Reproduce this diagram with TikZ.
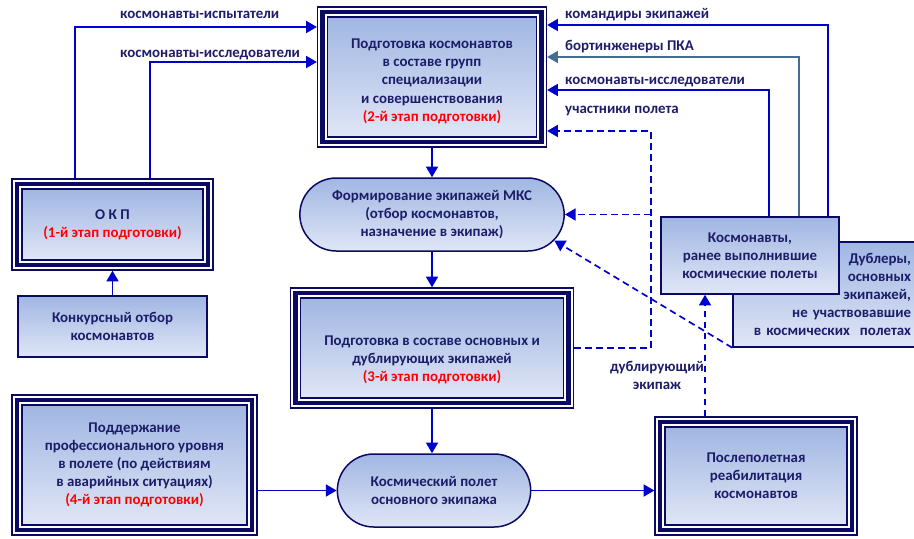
\documentclass[tikz,border=0pt]{standalone}
\usepackage{fontspec}
\setmainfont{Carlito}
\usetikzlibrary{arrows.meta,shapes.misc}

\definecolor{navy}{RGB}{10,10,100}
\definecolor{txtblue}{RGB}{28,28,105}
\definecolor{linkblue}{RGB}{0,0,205}
\definecolor{steel}{RGB}{70,108,145}
\definecolor{boxtop}{RGB}{160,182,226}
\definecolor{boxbot}{RGB}{224,230,246}

\newcommand{\etap}[1]{\textcolor{red}{(#1-й этап подготовки)}}

\tikzset{
  lbl/.style={text=txtblue, font=\fontsize{12.7}{15.4}\selectfont\bfseries, inner sep=0pt},
  box/.style={lbl, draw=navy, line width=0.45mm, top color=boxtop, bottom color=boxbot,
    align=center, inner sep=1mm},
  stagebox/.style={box, outer sep=3.2mm},
  roundbox/.style={box, rounded rectangle},
  conn/.style={linkblue, line width=0.5mm, -{Triangle[length=3.2mm,width=3.6mm]}},
  dconn/.style={conn, dash pattern=on 2mm off 1.3mm},
}

\begin{document}
\begin{tikzpicture}[x=0.3mm, y=-0.3mm]
  \useasboundingbox (0,0) rectangle (914,538);

  % Stages of training
  \node[stagebox, minimum width=62.7mm, minimum height=36mm,
    label={[lbl, align=center, yshift=-1.3mm]center:{Подготовка космонавтов\\в составе групп\\специализации\\и совершенствования\\\etap{2}}}]
    (stage2) at (432,77) {};
  \node[stagebox, minimum width=54.3mm, minimum height=21.3mm] (okp) at (112.5,224.5)
    {О К П\\\etap{1}};
  \node[stagebox, minimum width=78.9mm, minimum height=30mm,
    label={[lbl, align=center, yshift=-3.6mm]center:{Подготовка в составе основных и\\дублирующих экипажей\\\etap{3}}}]
    (stage3) at (432,348) {};
  \node[stagebox, minimum width=67.5mm, minimum height=36mm] (stage4) at (134.5,465)
    {Поддержание\\профессионального уровня\\в полете (по действиям\\в аварийных ситуациях)\\\etap{4}};
  \node[stagebox, minimum width=54.6mm, minimum height=29.4mm] (rehab) at (756,476)
    {Послеполетная\\реабилитация\\космонавтов};

  % Double frames of the stage boxes
  \foreach \n in {okp,stage2,stage3,stage4,rehab}{
    \draw[navy, line width=0.45mm] ([shift={(0.2mm,0.2mm)}]\n.south west) rectangle ([shift={(-0.2mm,-0.2mm)}]\n.north east);
    \draw[navy, line width=1.35mm] ([shift={(1.7mm,1.7mm)}]\n.south west) rectangle ([shift={(-1.7mm,-1.7mm)}]\n.north east);
  }

  % Other boxes
  \node[box, minimum width=56.7mm, minimum height=18.3mm] (konk) at (112.5,326.5)
    {Конкурсный отбор\\космонавтов};
  \node[box, align=right, text width=52.2mm, inner xsep=1.2mm, minimum height=31.5mm] (dubl) at (824,294.5)
    {Дублеры,\\основных\\экипажей,\\не участвовавшие\\в космических\ \ полетах};
  \node[box, minimum width=53.4mm, minimum height=23.1mm] (kosm) at (750,255.5)
    {Космонавты,\\ранее выполнившие\\космические полеты};
  \node[roundbox, minimum width=81.3mm, minimum height=21.9mm] (formation) at (432,214.5)
    {Формирование экипажей МКС\\(отбор космонавтов,\\назначение в экипаж)};
  \node[roundbox, minimum width=60mm, minimum height=21.9mm] (flight) at (434,490.5)
    {Космический полет\\основного экипажа};

  % Turning points of the connectors
  \coordinate (isp) at (75,27);
  \coordinate (iss) at (150,62);
  \coordinate (cmd) at (828,25);
  \coordinate (eng) at (799,57);
  \coordinate (res) at (769,90);
  \coordinate (part) at (651,131);
  \coordinate (dub) at (705,0);

  % Main line
  \draw[conn] (konk.north) -- (okp.south);
  \draw[conn] (stage2.south) -- (formation.north);
  \draw[conn] (formation.south) -- (stage3.north);
  \draw[conn] (stage3.south) -- (stage3.south |- flight.north);
  \draw[conn] (stage4.east |- flight.west) -- (flight.west);
  \draw[conn] (flight.east) -- (rehab.west |- flight.east);

  % Into stage 2
  \draw[conn] (okp.north -| isp) |- (stage2.west |- isp);
  \draw[conn] (okp.north -| iss) |- (stage2.west |- iss);
  \draw[conn] (kosm.north -| cmd) |- (stage2.east |- cmd);
  \draw[conn, steel] (kosm.north -| eng) |- (stage2.east |- eng);
  \draw[conn] (kosm.north -| res) |- (stage2.east |- res);

  % Dashed feedback
  \draw[dconn] (stage3.east) -| (part) -- (stage2.east |- part);
  \draw[dconn] (formation.east -| part) -- (formation.east);
  \draw[dconn] (dubl.south west) -- (formation.-12);
  \draw[dconn] (rehab.north -| dub) -- (kosm.south -| dub);

  % Labels on the connectors
  \node[lbl, anchor=west] (lblIsp) at (120,15) {космонавты-испытатели};
  \node[lbl, anchor=west] (lblIss) at (120,55) {космонавты-исследователи};
  \node[lbl, anchor=west] (lblCmd) at (565,15) {командиры экипажей};
  \node[lbl, anchor=west] (lblEng) at (565,47) {бортинженеры ПКА};
  \node[lbl, anchor=west] (lblRes) at (565,82) {космонавты-исследователи};
  \node[lbl, anchor=west] (lblPart) at (565,111) {участники полета};
  \node[lbl, align=center] (lblDub) at (657,375) {дублирующий\\экипаж};
\end{tikzpicture}
\end{document}
